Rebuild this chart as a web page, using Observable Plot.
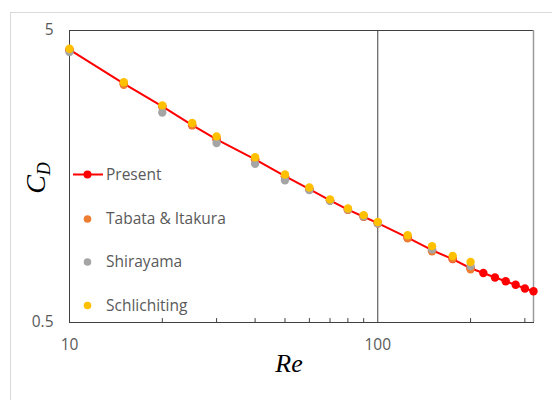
<!DOCTYPE html>
<html><head><meta charset="utf-8">
<script src="https://cdn.jsdelivr.net/npm/d3@7"></script>
<script src="https://cdn.jsdelivr.net/npm/@observablehq/plot@0.6"></script>
<style>
html,body{margin:0;padding:0;background:#fff;overflow:hidden;width:552px;height:400px;}
#wrap{position:relative;width:552px;height:400px;}
#border{position:absolute;left:10px;top:12px;width:600px;height:500px;border:1px solid #d9d9d9;box-sizing:border-box;}
#chart{position:absolute;left:0;top:0;}
.leg{position:absolute;left:0;top:0;font-family:"Open Sans",sans-serif;font-size:15.5px;color:#595959;}
.ttl{position:absolute;font-family:"Liberation Serif","Times New Roman",serif;font-style:italic;color:#000;white-space:nowrap;}
</style></head>
<body><div id="wrap"><div id="border"></div><div id="chart"></div><svg id="legend" class="leg" width="552" height="400"></svg>
<div class="ttl" id="ytitle" style="left:6px;top:163px;width:60px;height:30px;line-height:30px;text-align:center;transform:rotate(-90deg);font-size:28px;">C<span style="font-size:18px;vertical-align:-5px;">D</span></div>
<div class="ttl" id="xtitle" style="left:249px;top:349px;width:80px;height:30px;line-height:30px;text-align:center;font-size:26px;">Re</div>
</div>
<script>
// Data
const reynolds = [10,15,20,25,30,40,50,60,70,80,90,100,125,150,175,200,220,240,260,280,300,320];
const present = [4.30,3.29,2.75,2.37,2.12,1.81,1.585,1.43,1.31,1.217,1.151,1.094,0.976,0.884,0.824,0.767,0.739,0.713,0.692,0.673,0.654,0.640];
const tabataRe = [10,15,20,25,30,40,50,60,70,80,90,100,125,150,175,200];
const tabata = [4.28,3.26,2.74,2.37,2.12,1.81,1.585,1.43,1.31,1.217,1.151,1.094,0.972,0.877,0.826,0.761];
const shirayamaRe = [10,20,30,40,50,60,70,80,90,100,150,200];
const shirayama = [4.22,2.62,2.06,1.747,1.535,1.42,1.305,1.22,1.155,1.094,0.89,0.78];
const schlichtingRe = [10,15,20,25,30,40,50,60,70,80,90,100,125,150,175,200];
const schlichting = [4.33,3.325,2.77,2.41,2.17,1.84,1.606,1.45,1.32,1.229,1.166,1.105,0.995,0.913,0.845,0.806];
const xMajor = [10,100];
const xMinor = [20,30,40,50,60,70,80,90,200,300];
const yTicks = [0.5,5];
const seriesNames = ["Present","Tabata & Itakura","Shirayama","Schlichiting"];
const seriesColors = ["#ff0000","#ed7d31","#a5a5a5","#ffc000"];

const zip = (xs, ys) => xs.map((x,i)=>({x, y: ys[i]}));
const P = zip(reynolds, present), T = zip(tabataRe, tabata), S = zip(shirayamaRe, shirayama), C = zip(schlichtingRe, schlichting);

const chart = Plot.plot({
  width: 552, height: 400,
  marginLeft: 69, marginRight: 19, marginTop: 30, marginBottom: 78,
  x: {type: "log", domain: [10, 320]},
  y: {type: "log", domain: [0.5, 5]},
  style: {fontFamily: "Open Sans, sans-serif", fontSize: "15.5px", color: "#595959", background: "transparent", overflow: "visible"},
  marks: [
    Plot.ruleX([100], {stroke: "#404040", strokeWidth: 1}),
    Plot.frame({stroke: "#404040"}),
    Plot.ruleX([320], {stroke: "#9a9a9a", strokeWidth: 1.5}),
    Plot.vector(xMinor, {x: d => d, frameAnchor: "bottom", length: 4, rotate: 0, anchor: "start", shape: {draw(context, l) { context.moveTo(0, 0); context.lineTo(0, -l); }}, stroke: "#404040", strokeWidth: 1}),
    Plot.axisX(xMajor, {tickSize: 0, tickPadding: 16, tickFormat: d => String(d), label: null, fill: "#595959"}),
    Plot.axisY(yTicks, {tickSize: 0, tickPadding: 16, tickFormat: d => String(d), label: null, fill: "#595959"}),
    Plot.line(P, {x: "x", y: "y", stroke: seriesColors[0], strokeWidth: 2}),
    Plot.dot(P, {x: "x", y: "y", r: 4.2, fill: seriesColors[0]}),
    Plot.dot(T, {x: "x", y: "y", r: 4.2, fill: seriesColors[1]}),
    Plot.dot(S, {x: "x", y: "y", r: 4.2, fill: seriesColors[2]}),
    Plot.dot(C, {x: "x", y: "y", r: 4.2, fill: seriesColors[3]})
  ]
});
document.getElementById("chart").appendChild(chart);

// Legend (inside plot area, left side)
const leg = d3.select("#legend");
const legY = [174.5, 219, 262, 305.5];
seriesNames.forEach((name, i) => {
  const g = leg.append("g").attr("transform", `translate(0,${legY[i]})`);
  if (i === 0) g.append("line").attr("x1", 73).attr("x2", 103).attr("y1", 0).attr("y2", 0).attr("stroke", seriesColors[0]).attr("stroke-width", 2);
  g.append("circle").attr("cx", 87.5).attr("cy", 0).attr("r", i === 0 ? 4 : 3.8).attr("fill", seriesColors[i]);
  g.append("text").attr("x", 106).attr("y", 0).attr("dy", "0.35em").attr("fill", "#595959").text(name);
});
</script></body></html>
